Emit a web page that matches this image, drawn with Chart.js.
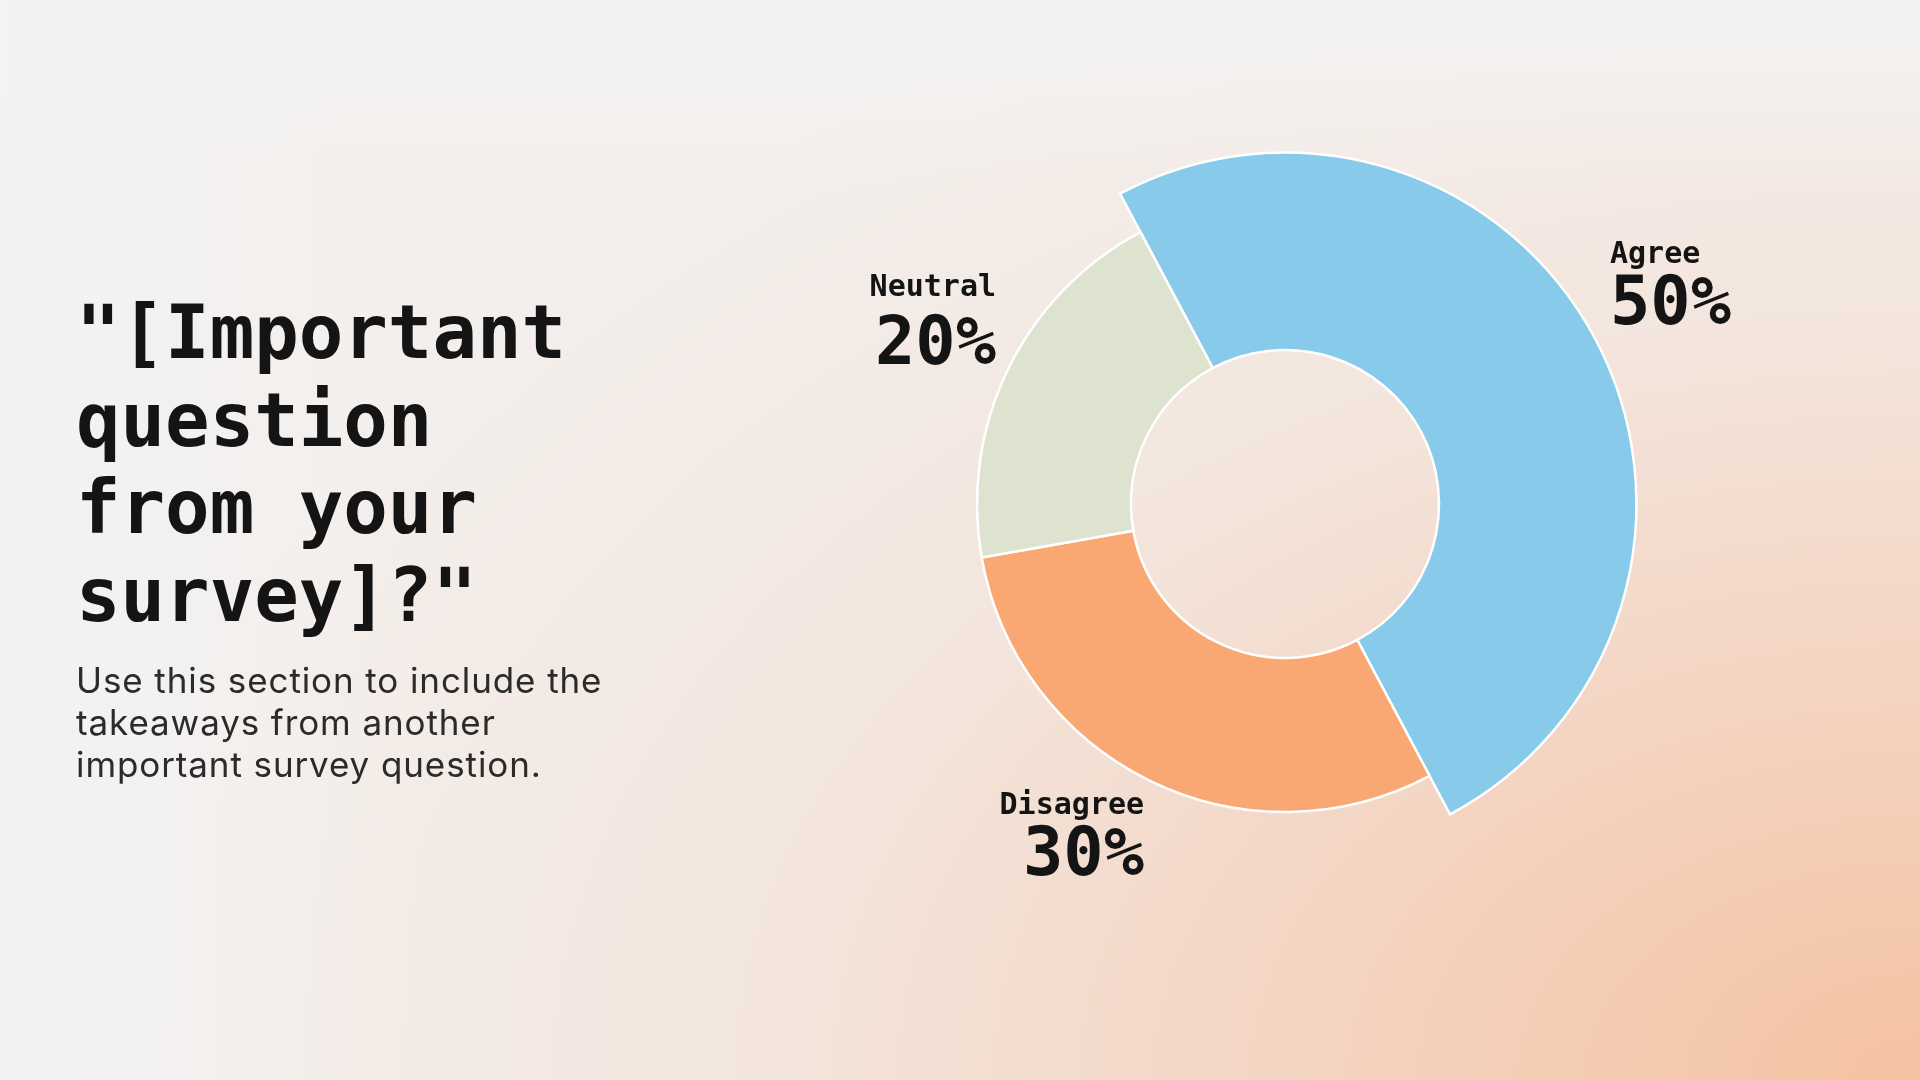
<!DOCTYPE html>
<html>
<head>
<meta charset="utf-8">
<script src="https://cdn.jsdelivr.net/npm/chart.js@4.4.1/dist/chart.umd.min.js"></script>
<style>
  html, body {
    margin: 0;
    padding: 0;
    width: 1920px;
    height: 1080px;
    overflow: hidden;
  }
  body {
    position: relative;
    background:
      linear-gradient(90deg, rgba(243,243,243,1) 0%, rgba(243,243,243,0) 22%),
      linear-gradient(180deg, rgba(243,243,243,1) 0%, rgba(243,243,243,0) 18%),
      radial-gradient(ellipse 95% 110% at 100% 100%, #F4C2A1 0%, #F4D5C3 35%, #F3E6DE 65%, #F3EFEC 100%);
  }
  #chartBox {
    position: absolute;
    left: 0;
    top: 0;
    width: 1920px;
    height: 1080px;
  }
  .title {
    position: absolute;
    left: 76px;
    top: 289px;
    margin: 0;
    font-family: "DejaVu Sans Mono", monospace;
    font-weight: bold;
    font-size: 74px;
    line-height: 87.5px;
    color: #141414;
    white-space: nowrap;
  }
  .body {
    position: absolute;
    left: 76px;
    top: 659px;
    margin: 0;
    font-family: Inter, "Noto Sans", sans-serif;
    font-weight: 400;
    font-size: 35px;
    letter-spacing: 0.9px;
    line-height: 42px;
    color: #2b2b2b;
    white-space: nowrap;
  }
</style>
</head>
<body>
<div id="chartBox"><canvas id="surveyPie"></canvas></div>
<h1 class="title">"[Important<br>question<br>from your<br>survey]?"</h1>
<p class="body">Use this section to include the<br>takeaways from another<br>important survey question.</p>

<script>
// survey answers
const answerLabels = ['Agree', 'Disagree', 'Neutral'];
const answerValues = [50, 30, 20];
const answerColors = ['#87CAE9', '#F9A874', '#DDE3CF'];

// the leading slice is drawn with a bigger outer radius than the rest
const raisedSlice = {
  id: 'raisedSlice',
  afterDatasetUpdate(chart, args, opts) {
    const arc = args.meta.data[opts.index];
    if (arc) {
      arc.outerRadius = arc.outerRadius * opts.scale;
    }
  }
};

// name + percentage next to each slice
const sliceLabels = {
  id: 'sliceLabels',
  afterDraw(chart, args, opts) {
    const { ctx } = chart;
    const meta = chart.getDatasetMeta(0);
    const values = chart.data.datasets[0].data;
    const sum = values.reduce((a, b) => a + b, 0);

    meta.data.forEach((arc, i) => {
      const place = opts.place[i];
      const x = arc.x + place.dx;

      ctx.save();
      ctx.fillStyle = '#141414';
      ctx.textAlign = place.align;
      ctx.textBaseline = 'alphabetic';

      ctx.font = 'bold 30px "DejaVu Sans Mono"';
      ctx.fillText(chart.data.labels[i], x, arc.y + place.nameY);

      ctx.font = 'bold 67px "DejaVu Sans Mono"';
      const pct = Math.round(values[i] / sum * 100) + '%';
      ctx.fillText(pct, x, arc.y + place.pctY);
      ctx.restore();
    });
  }
};

const ctx = document.getElementById('surveyPie');

new Chart(ctx, {
  type: 'doughnut',
  data: {
    labels: answerLabels,
    datasets: [{
      data: answerValues,
      backgroundColor: answerColors,
      borderColor: '#ffffff',
      borderWidth: 2.5,
      borderJoinStyle: 'miter'
    }]
  },
  plugins: [raisedSlice, sliceLabels],
  options: {
    responsive: true,
    maintainAspectRatio: false,
    animation: false,
    events: [],
    rotation: -28,
    radius: 308,
    cutout: '50%',
    layout: {
      padding: { left: 650, right: 0, top: 0, bottom: 72 }
    },
    plugins: {
      legend: { display: false },
      tooltip: { enabled: false },
      title: { display: false },
      raisedSlice: { index: 0, scale: 1.141 },
      sliceLabels: {
        place: [
          { dx: 325, nameY: -241, pctY: -180, align: 'left' },
          { dx: -141, nameY: 310, pctY: 371, align: 'right' },
          { dx: -289, nameY: -208, pctY: -140, align: 'right' }
        ]
      }
    }
  }
});
</script>
</body>
</html>
